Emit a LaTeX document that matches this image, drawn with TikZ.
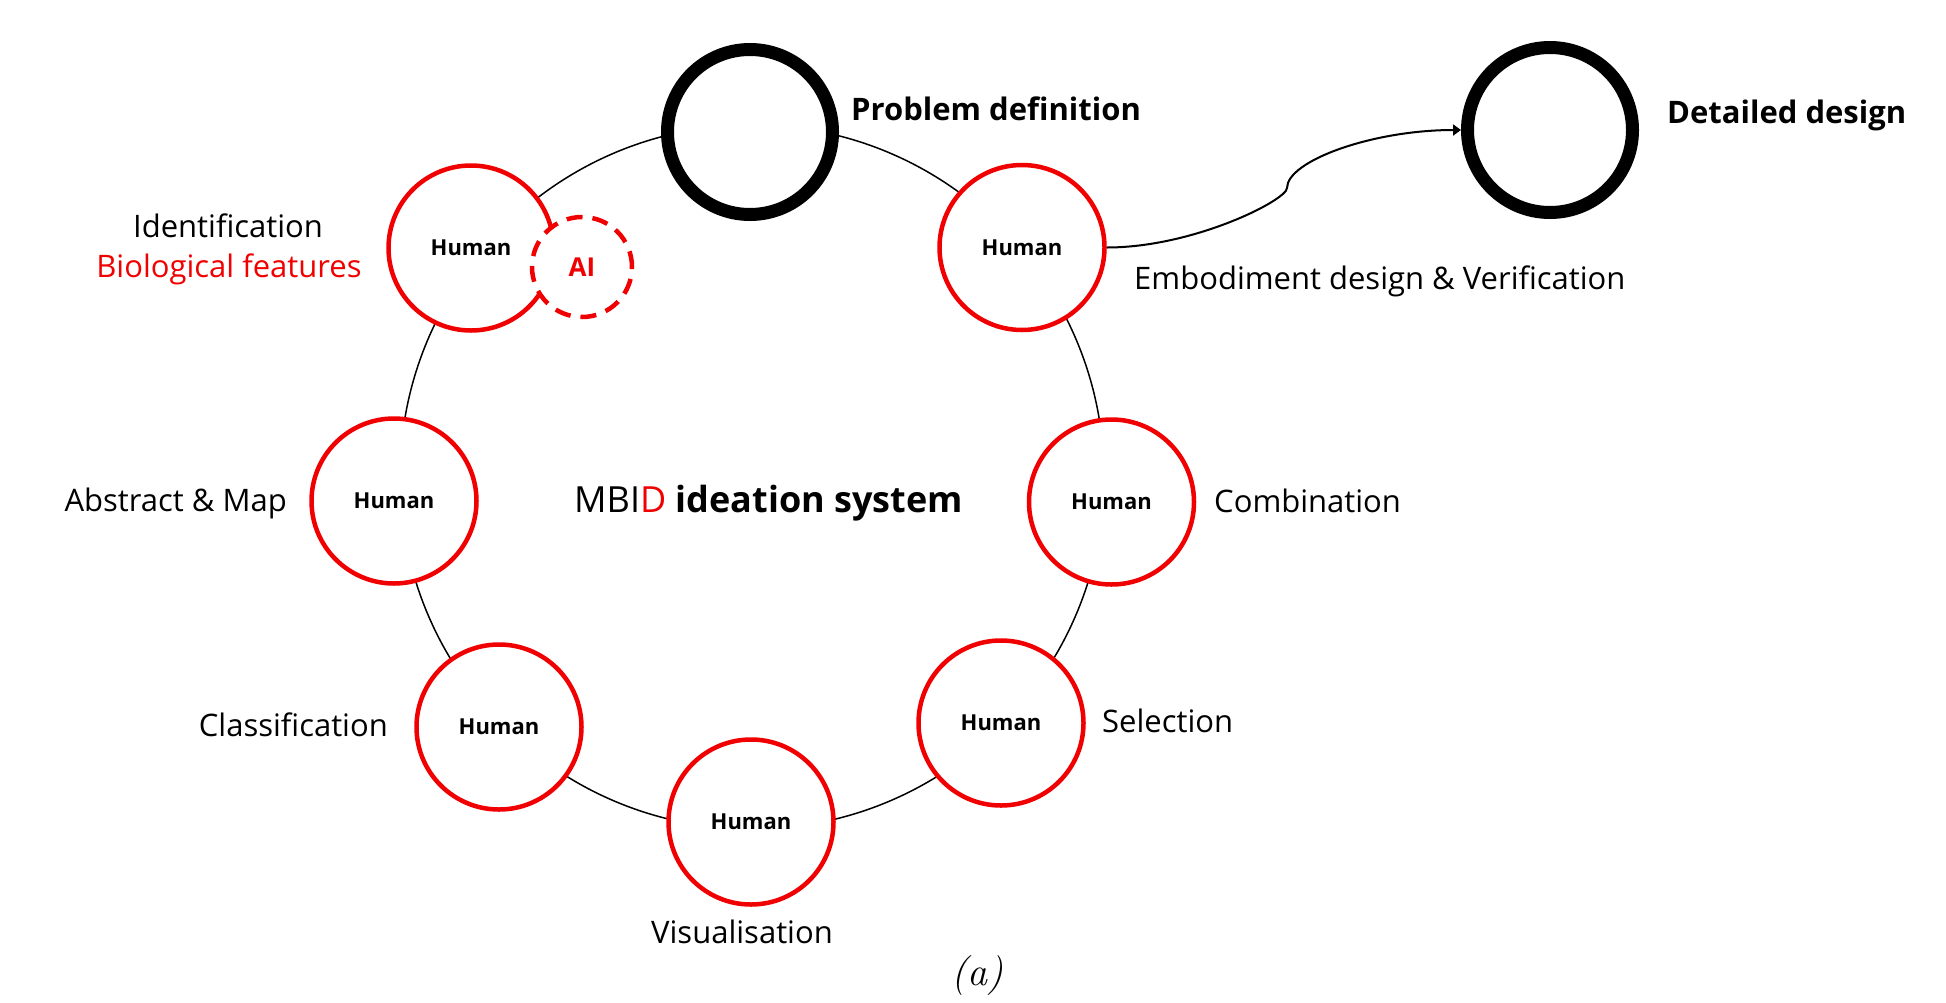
\documentclass[tikz,border=0pt]{standalone}
\usepackage{fontspec}
\setsansfont{Open Sans}
\usetikzlibrary{arrows.meta}
\definecolor{mred}{RGB}{240,0,0}
\begin{document}
\begin{tikzpicture}[x=1pt,y=-1pt,
  human/.style={circle, draw=mred, line width=4.5pt, fill=white, minimum size=165pt, inner sep=0pt, font=\sffamily\bfseries\fontsize{22}{26}\selectfont},
  phase/.style={circle, draw=black, line width=13pt, fill=white, minimum size=165pt, inner sep=0pt},
  aibox/.style={circle, draw=mred, line width=4.5pt, dash pattern=on 16pt off 10pt, fill=white, minimum size=100pt, inner sep=0pt, text=mred, font=\sffamily\bfseries\fontsize{26}{30}\selectfont},
  lbl/.style={font=\sffamily\fontsize{31}{37}\selectfont, inner sep=0pt},
  blbl/.style={font=\sffamily\bfseries\fontsize{31}{37}\selectfont, inner sep=0pt},
  ring/.style={line width=1.5pt},
  flow/.style={line width=2pt, -{Triangle[length=8pt,width=11pt]}}
]
\useasboundingbox (0,0) rectangle (1946,1002);
% ring joining the ideation stages
\coordinate (ringc) at (752,477);
\draw[ring] (ringc) circle[radius=352];
% stage circles
\node[phase] (prob) at (750,132) {};
\node[phase] (det) at (1550,130) {};
\node[human] (ident) at (471,248) {Human};
\node[aibox] (ai) at (582,267) {AI};
\node[human] (emb) at (1022,247.5) {Human};
\node[human] (abs) at (394,501) {Human};
\node[human] (comb) at (1111.5,502) {Human};
\node[human] (cls) at (499,727) {Human};
\node[human] (sel) at (1001,723) {Human};
\node[human] (vis) at (751,822) {Human};
% flow to detailed design
\coordinate (kink) at (1287,188);
\draw[flow] (emb.east) .. controls +(87,0) and +(0,12) .. (kink) .. controls +(0,-27) and +(-89,0) .. (det.west);
% labels
\node[blbl, anchor=base west] (tprob) at (851,120) {Problem definition};
\node[blbl, anchor=base west] (tdet) at (1667,123) {Detailed design};
\node[lbl, anchor=base] (tid) at (228,237) {Identification};
\node[lbl, anchor=base, text=mred] (tbio) at (229,277) {Biological features};
\node[lbl, anchor=base west] (temb) at (1134,289) {Embodiment design \& Verification};
\node[lbl, anchor=base east] (tabs) at (287,511) {Abstract \& Map};
\node[lbl, anchor=base west] (tcomb) at (1214,512) {Combination};
\node[anchor=base west, inner sep=0pt, font=\sffamily\fontsize{36}{42}\selectfont] (title) at (574,512) {MBI\textcolor{mred}{D} \textbf{ideation system}};
\node[lbl, anchor=base east] (tcls) at (388,736) {Classification};
\node[lbl, anchor=base west] (tsel) at (1102,732) {Selection};
\node[lbl, anchor=base] (tvis) at (742,943) {Visualisation};
\node[anchor=base, inner sep=0pt, font=\rmfamily\itshape\fontsize{40}{46}\selectfont] (cap) at (977,985) {(a)};
\end{tikzpicture}
\end{document}
